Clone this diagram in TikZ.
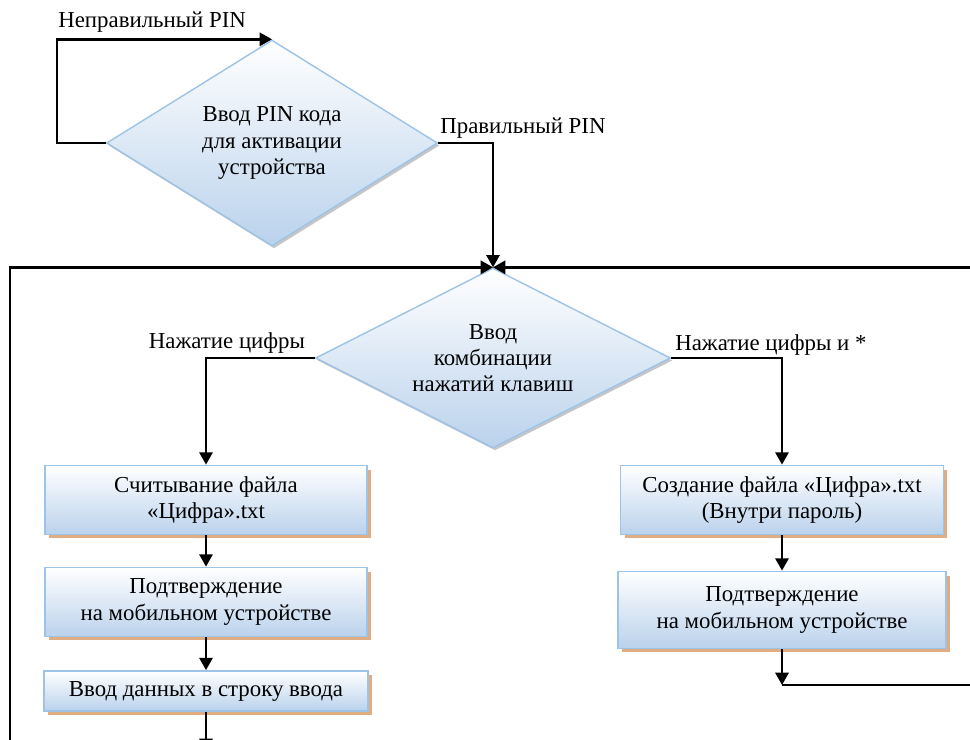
\documentclass[tikz,border=0pt]{standalone}
\usepackage{fontspec}
\setmainfont{Liberation Serif}
\usetikzlibrary{shapes.geometric,arrows.meta,shadows}
\definecolor{rimblue}{HTML}{9DC3E6}
\definecolor{fillblue}{HTML}{BAD2EC}
\definecolor{shadowtan}{HTML}{E0AD82}
\tikzset{
  actbox/.style={draw=rimblue, line width=1pt, top color=white, bottom color=fillblue,
    align=center, inner sep=2pt,
    drop shadow={shadow xshift=0.08cm, shadow yshift=-0.08cm, fill=shadowtan, opacity=1}},
  choice/.style={diamond, draw=rimblue, line width=0.8pt, top color=white, bottom color=fillblue,
    align=center, inner sep=0pt,
    drop shadow={shadow xshift=0.04cm, shadow yshift=-0.05cm, fill=gray, opacity=.45}},
  flow/.style={line width=1.4pt, -{Triangle[length=7pt,width=7.5pt]}},
  wire/.style={line width=1.4pt},
  lbl/.style={inner sep=0pt}
}
\begin{document}
\begin{tikzpicture}[x=0.02cm, y=-0.02cm, font=\fontsize{13}{15}\selectfont]
  \clip (0,0) rectangle (970,740);
  % Ромбы
  \node [choice, shape aspect=1.6, minimum width=6.62cm, minimum height=4.12cm] (pin) at (272,143)
    {Ввод PIN кода\\для активации\\устройства};
  \node [choice, shape aspect=2, minimum width=7.1cm, minimum height=3.6cm] (combo) at (493,358)
    {Ввод\\комбинации\\нажатий клавиш};
  % Левая ветвь
  \node [actbox, minimum width=6.44cm, minimum height=1.38cm] (read) at (206,500)
    {Считывание файла\\«Цифра».txt};
  \node [actbox, minimum width=6.44cm, minimum height=1.38cm] (conf1) at (206,602)
    {Подтверждение\\на мобильном устройстве};
  \node [actbox, minimum width=6.48cm, minimum height=0.8cm] (enter) at (206,691)
    {Ввод данных в строку ввода};
  % Правая ветвь
  \node [actbox, minimum width=6.46cm, minimum height=1.38cm] (make) at (782,500)
    {Создание файла «Цифра».txt\\(Внутри пароль)};
  \node [actbox, minimum width=6.56cm, minimum height=1.54cm] (conf2) at (782,610)
    {Подтверждение\\на мобильном устройстве};
  % Точки возврата
  \coordinate (backL) at (10,750);
  \path (combo.north) ++(490,0) coordinate (backR);
  \coordinate (out) at (206,751);
  \coordinate (turn) at (782,685);
  \coordinate (edge) at (980,685);
  % Стрелки
  \draw [flow] (pin.west) -- ++(-49,0) |- (pin.north);
  \draw [flow] (pin.east) -| (combo.north);
  \draw [flow] (backL) |- (combo.north);
  \draw [flow] (backR) -- (combo.north);
  \draw [flow] (combo.west) -| (read.north);
  \draw [flow] (combo.east) -| (make.north);
  \draw [flow] (read) -- (conf1);
  \draw [flow] (conf1) -- (enter);
  \draw [flow] (enter) -- (out);
  \draw [flow] (make) -- (conf2);
  \draw [flow] (conf2) -- (turn);
  \draw [wire] (turn) -- (edge);
  % Подписи
  \node [lbl, anchor=base west] (wrong) at (58,28) {Неправильный PIN};
  \node [lbl, anchor=base west] (right) at (440,133) {Правильный PIN};
  \node [lbl, anchor=base] (digit) at (227,348) {Нажатие цифры};
  \node [lbl, anchor=base west] (star) at (675,350) {Нажатие цифры и *};
\end{tikzpicture}
\end{document}
